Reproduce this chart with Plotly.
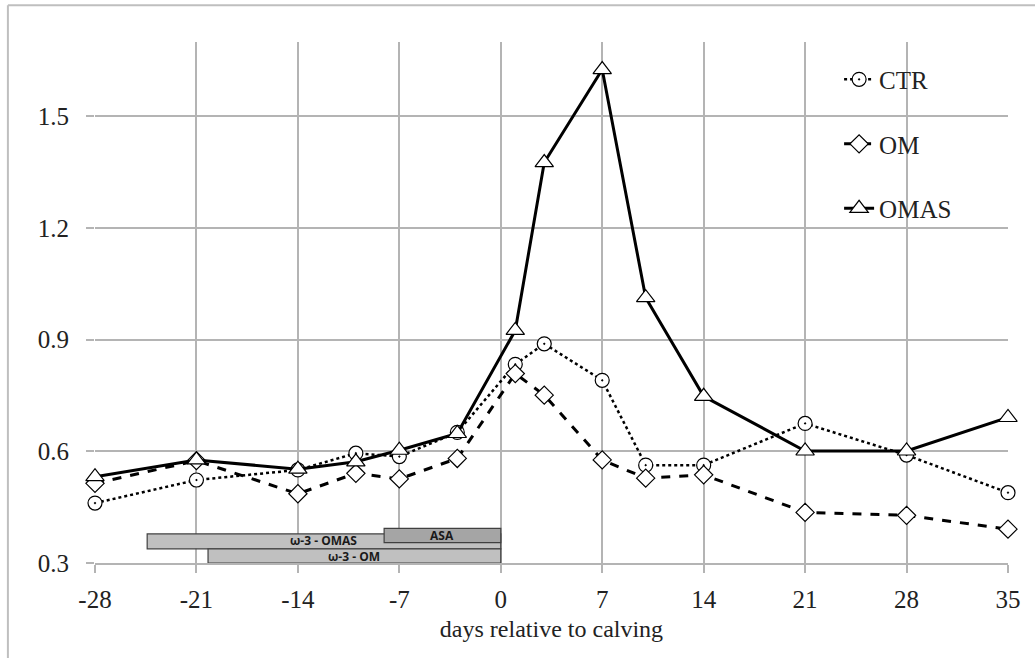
import plotly.graph_objects as go

days = [-28, -21, -14, -10, -7, -3, 1, 3, 7, 10, 14, 21, 28, 35]
ctr = [0.461, 0.523, 0.550, 0.595, 0.586, 0.651, 0.834, 0.889, 0.791, 0.563, 0.563, 0.675, 0.590, 0.489]
om = [0.514, 0.575, 0.486, 0.541, 0.526, 0.581, 0.809, 0.751, 0.577, 0.528, 0.537, 0.436, 0.428, 0.391]
omas = [0.532, 0.577, 0.552, 0.572, 0.603, 0.648, 0.925, 1.376, 1.626, 1.013, 0.748, 0.601, 0.601, 0.691]

x_ticks = [-28, -21, -14, -7, 0, 7, 14, 21, 28, 35]
x_tick_labels = ["-28", "-21", "-14", "-7", "0", "7", "14", "21", "28", "35"]
y_ticks = [0.3, 0.6, 0.9, 1.2, 1.5]
y_tick_labels = ["0.3", "0.6", "0.9", "1.2", "1.5"]

# treatment period bars: label, start day, end day, y bottom, y top, label y
bar_labels = ["ω-3 - OMAS", "ω-3 - OM", "ASA"]
bar_start = [-24.4, -20.2, -8.05]
bar_end = [0, 0, 0]
bar_y0 = [0.338, 0.300, 0.355]
bar_y1 = [0.378, 0.338, 0.393]
bar_label_y = [0.3605, 0.3165, 0.373]
bar_colors = ["#c0c0c0", "#c0c0c0", "#a5a5a5"]

serif = "Liberation Serif"

fig = go.Figure()
fig.add_trace(go.Scatter(
    x=days, y=ctr, name="CTR", mode="lines+markers", legendgroup="a", cliponaxis=False,
    line=dict(color="black", width=2.5, dash="dot"),
    marker=dict(symbol="circle-dot", size=14, color="white", line=dict(color="black", width=1.2)),
))
fig.add_trace(go.Scatter(
    x=days, y=om, name="OM", mode="lines+markers", legendgroup="b", cliponaxis=False,
    line=dict(color="black", width=3, dash="dash"),
    marker=dict(symbol="diamond", size=14, color="white", line=dict(color="black", width=1.2)),
))
fig.add_trace(go.Scatter(
    x=days, y=omas, name="OMAS", mode="lines+markers", legendgroup="c", cliponaxis=False,
    line=dict(color="black", width=3),
    marker=dict(symbol="triangle-up", size=16, color="white", line=dict(color="black", width=1.2)),
))

for lab, xs, xe, y0, y1, ly, c in zip(bar_labels, bar_start, bar_end, bar_y0, bar_y1, bar_label_y, bar_colors):
    fig.add_shape(type="rect", xref="x", yref="y", x0=xs, x1=xe, y0=y0, y1=y1,
                  fillcolor=c, line=dict(color="#404040", width=1.2), layer="above")
    fig.add_annotation(x=(xs + xe) / 2, y=ly, xref="x", yref="y",
                       text="<b>" + lab + "</b>", showarrow=False, borderpad=0,
                       font=dict(family="Open Sans", size=12, color="#1a1a1a"))

# outer chart border
fig.add_shape(type="line", xref="paper", yref="paper", x0=-0.0954, x1=1.05, y0=1.0704, y1=1.0704,
              line=dict(color="#bfbfbf", width=2))
fig.add_shape(type="line", xref="paper", yref="paper", x0=-0.0954, x1=-0.0954, y0=1.0704, y1=-0.2,
              line=dict(color="#bfbfbf", width=2))

fig.update_layout(
    width=1035, height=658,
    margin=dict(l=95, r=27, t=42, b=95),
    paper_bgcolor="white", plot_bgcolor="white",
    font=dict(family=serif, color="#222222"),
    showlegend=True,
    legend=dict(x=0.815, y=0.972, xanchor="left", yanchor="top",
                font=dict(family=serif, size=25, color="#222222"),
                tracegroupgap=29, itemwidth=30, bgcolor="rgba(0,0,0,0)"),
    xaxis=dict(range=[-28, 35], tickvals=x_ticks, ticktext=x_tick_labels, showgrid=True,
               gridcolor="#b4b4b4", gridwidth=1.5,
               ticks="outside", ticklen=8, tickcolor="#b4b4b4", tickwidth=1.5,
               showline=True, linecolor="#b4b4b4", linewidth=1.5, zeroline=False,
               tickfont=dict(family=serif, size=25, color="#222222"), ticklabelstandoff=5,
               title=dict(text="days relative to calving", font=dict(family=serif, size=24, color="#222222"),
                          standoff=8)),
    yaxis=dict(range=[0.3, 1.7], tickvals=y_ticks, ticktext=y_tick_labels, showgrid=True,
               gridcolor="#b4b4b4", gridwidth=1.5, ticks="outside", ticklen=8, tickcolor="#b4b4b4",
               tickwidth=1.5, zeroline=False, showline=False,
               tickfont=dict(family=serif, size=25, color="#222222"), ticklabelstandoff=12),
)

fig.write_html("out.html")
